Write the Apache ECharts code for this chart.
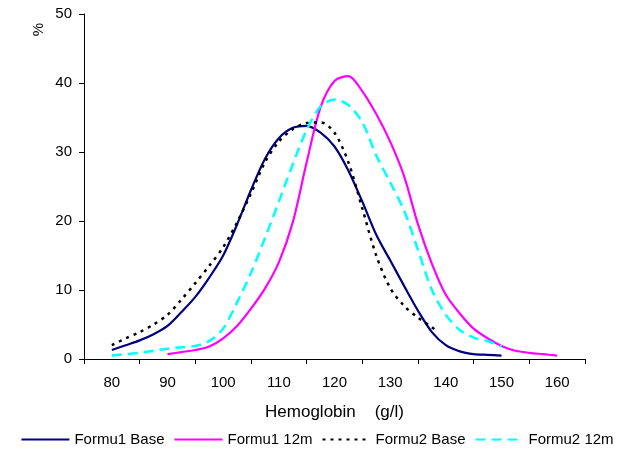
<!DOCTYPE html>
<html>
<head>
<meta charset="utf-8">
<script src="https://cdn.jsdelivr.net/npm/echarts@6/dist/echarts.min.js"></script>
<style>html,body{margin:0;padding:0;background:#fff}#c{width:634px;height:452px}</style>
</head>
<body>
<div id="c"></div>
<script>
const xTickLabels = ['80','90','100','110','120','130','140','150','160'];

const f1BaseX = [80,82.5,85,87.5,90,92.5,95,97.5,100,102.5,105,107.5,110,112.5,115,117.5,120,122.5,125,127.5,130,132.5,135,137.5,140,142.5,145,147.5,150];
const f1BaseY = [1.3,2.0,2.7,3.6,4.8,6.8,9.0,11.8,15.0,19.5,24.5,29.0,32.0,33.5,33.8,32.8,30.8,27.3,22.8,18.0,14.3,10.6,7.0,3.9,2.0,1.1,0.7,0.6,0.5];

const f1_12mX = [90,92.5,95,97.5,100,102.5,105,107.5,110,112.5,115,117.5,120,122.5,125,127.5,130,132.5,135,137.5,140,142.5,145,147.5,150,152.5,155,157.5,160];
const f1_12mY = [0.7,1.0,1.3,1.8,3.0,4.8,7.3,10.2,14.0,19.8,28.5,36.5,40.3,41.0,38.8,35.5,31.5,26.5,19.5,13.8,9.3,6.6,4.4,3.0,1.9,1.2,0.9,0.7,0.5];

const f2BaseX = [80,82.5,85,87.5,90,92.5,95,97.5,100,102.5,105,107.5,110,112.5,115,117.5,120,122.5,125,127.5,130,132.5,135,137.5,138.5];
const f2BaseY = [2.0,3.0,3.9,5.0,6.4,8.6,11.0,13.5,16.2,19.8,24.0,28.5,31.5,33.3,34.2,34.3,32.8,28.5,21.8,15.0,10.3,7.7,6.0,4.6,3.9];

const f2_12mX = [80,82.5,85,87.5,90,92.5,95,97.5,100,102.5,105,107.5,110,112.5,115,117.5,120,122.5,125,127.5,130,132.5,135,137.5,140,142.5,145,147.5,150];
const f2_12mY = [0.5,0.7,0.9,1.2,1.5,1.7,1.9,2.6,4.4,8.2,12.5,17.5,22.8,28.2,33.2,36.6,37.6,36.8,34.3,29.5,25.6,21.5,15.8,10.0,6.4,4.2,3.1,2.6,1.8];

const pair = (xs, ys) => xs.map((x, i) => [x, ys[i]]);

const chart = echarts.init(document.getElementById('c'));
const font = 'Liberation Sans, Arial, sans-serif';
chart.setOption({
  animation: false,
  textStyle: {fontFamily: font},
  grid: {left: 84, right: 49, top: 14, bottom: 93, containLabel: false},
  xAxis: [
    {
      type: 'category', data: xTickLabels, boundaryGap: true,
      axisLine: {lineStyle: {color: '#000', width: 1}},
      axisTick: {show: true, length: 5, lineStyle: {color: '#000'}},
      axisLabel: {color: '#000', fontSize: 15, margin: 16, fontFamily: font},
      splitLine: {show: false},
      name: 'Hemoglobin    (g/l)', nameLocation: 'middle', nameGap: 45,
      nameTextStyle: {color: '#000', fontSize: 17, fontFamily: font, verticalAlign: 'top'}
    },
    {type: 'value', min: 75, max: 165, show: false, splitLine: {show: false}}
  ],
  yAxis: {
    type: 'value', min: 0, max: 50, interval: 10,
    axisLine: {show: true, lineStyle: {color: '#000', width: 1}},
    axisTick: {show: true, length: 5, lineStyle: {color: '#000'}},
    axisLabel: {color: '#000', fontSize: 15, margin: 12, fontFamily: font},
    splitLine: {show: false}
  },
  graphic: [{
    type: 'text', left: 31, top: 23, rotation: Math.PI / 2,
    style: {text: '%', fill: '#000', font: '15px ' + font}
  }],
  legend: {
    bottom: 0, left: 'center', itemWidth: 48, itemHeight: 12, itemGap: 9,
    itemStyle: {opacity: 0},
    textStyle: {color: '#000', fontSize: 15, fontFamily: font},
    data: ['Formu1 Base', 'Formu1 12m', 'Formu2 Base', 'Formu2 12m']
  },
  series: [
    {name: 'Formu1 Base', type: 'line', xAxisIndex: 1, data: pair(f1BaseX, f1BaseY), smooth: 0.3, symbol: 'none',
     lineStyle: {color: '#000080', width: 2.2}, itemStyle: {color: '#000080'}},
    {name: 'Formu1 12m', type: 'line', xAxisIndex: 1, data: pair(f1_12mX, f1_12mY), smooth: 0.3, symbol: 'none',
     lineStyle: {color: '#FF00FF', width: 2.2}, itemStyle: {color: '#FF00FF'}},
    {name: 'Formu2 Base', type: 'line', xAxisIndex: 1, data: pair(f2BaseX, f2BaseY), smooth: 0.3, symbol: 'none',
     lineStyle: {color: '#000', width: 2.5, type: [3, 5]}, itemStyle: {color: '#000'}},
    {name: 'Formu2 12m', type: 'line', xAxisIndex: 1, data: pair(f2_12mX, f2_12mY), smooth: 0.3, symbol: 'none',
     lineStyle: {color: '#00FFFF', width: 2.5, type: [10, 6]}, itemStyle: {color: '#00FFFF'}}
  ]
});
</script>
</body>
</html>
